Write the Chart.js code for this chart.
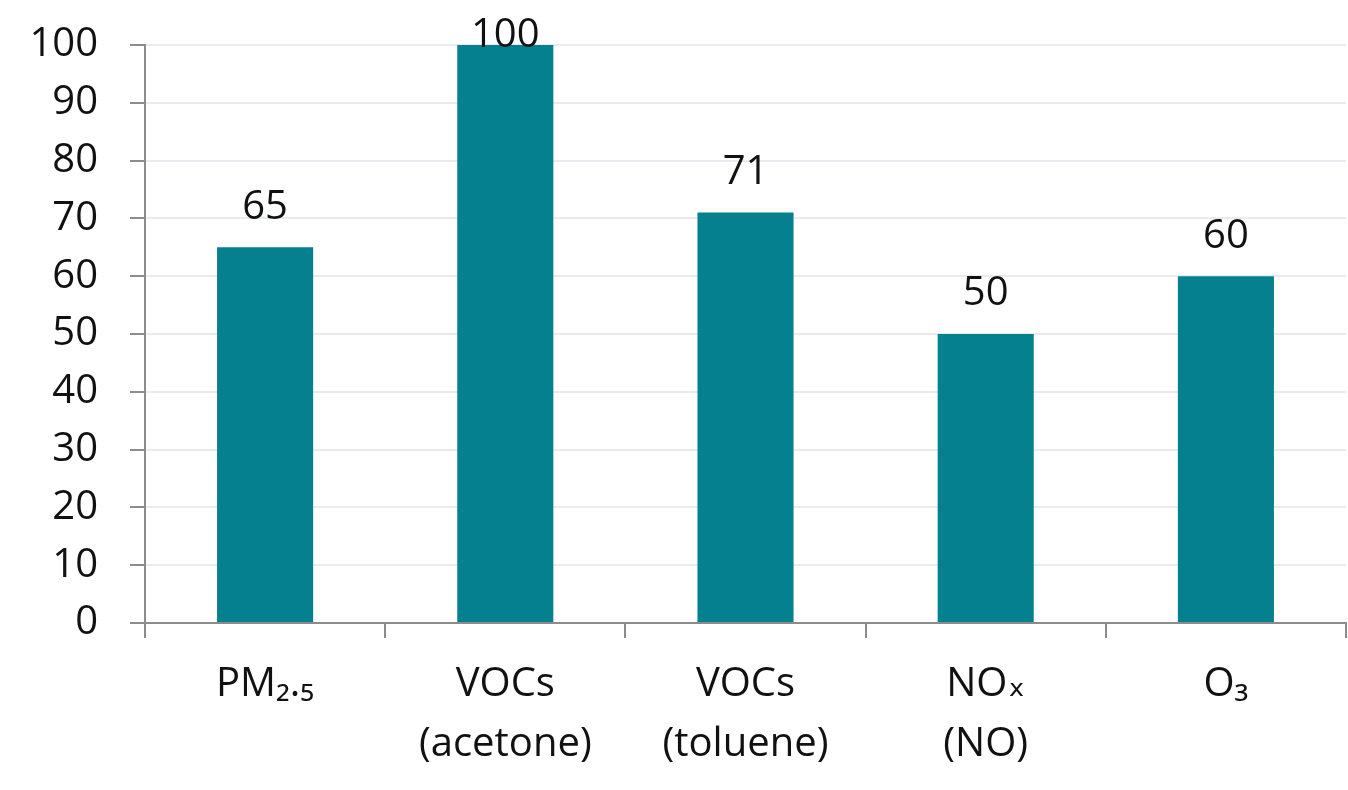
<!DOCTYPE html>
<html>
<head>
<meta charset="utf-8">
<script src="https://cdn.jsdelivr.net/npm/chart.js@4/dist/chart.umd.min.js"></script>
<style>
  html, body { margin: 0; padding: 0; background: #fff; }
  #wrap { width: 1348px; height: 790px; }
</style>
</head>
<body>
<div id="wrap"><canvas id="barChart" width="1348" height="790"></canvas></div>
<script>
// Categories and values
const categories = [['PM₂.₅'], ['VOCs', '(acetone)'], ['VOCs', '(toluene)'], ['NOₓ', '(NO)'], ['O₃']];
const values = [65, 100, 71, 50, 60];
const yTicks = [0, 10, 20, 30, 40, 50, 60, 70, 80, 90, 100];

const barColor = '#05808e';
const axisGray = '#8c8c8c';
const gridGray = '#e8ecf2';
const fontFamily = '"Open Sans", "DejaVu Sans", sans-serif';

// Draw value labels above each bar (kept inside the canvas at the top)
const valueLabels = {
    id: 'valueLabels',
    afterDatasetsDraw(chart) {
        const ctx = chart.ctx;
        const meta = chart.getDatasetMeta(0);
        ctx.save();
        ctx.font = '40px ' + fontFamily;
        ctx.fillStyle = '#111';
        ctx.textAlign = 'center';
        ctx.textBaseline = 'middle';
        meta.data.forEach(function (bar, i) {
            const y = Math.max(bar.y - 40, 36);
            ctx.fillText(String(values[i]), bar.x, y);
        });
        ctx.restore();
    }
};

const ctx = document.getElementById('barChart').getContext('2d');
const chart = new Chart(ctx, {
    type: 'bar',
    data: {
        labels: categories,
        datasets: [{
            data: values,
            backgroundColor: barColor,
            borderWidth: 0,
            barPercentage: 0.4,
            categoryPercentage: 1
        }]
    },
    options: {
        responsive: false,
        animation: false,
        layout: { padding: { top: 45, right: 2, left: 0, bottom: 0 } },
        plugins: {
            legend: { display: false },
            tooltip: { enabled: false }
        },
        scales: {
            x: {
                grid: {
                    offset: true,
                    drawOnChartArea: false,
                    drawTicks: true,
                    tickLength: 15,
                    tickColor: axisGray,
                    lineWidth: 2
                },
                border: { display: true, color: axisGray, width: 2 },
                ticks: {
                    color: '#111',
                    font: { family: fontFamily, size: 40, lineHeight: 1.5 },
                    padding: 17,
                    maxRotation: 0,
                    autoSkip: false
                },
                afterFit(scale) { scale.height = 167; }
            },
            y: {
                min: 0,
                max: 100,
                afterBuildTicks(scale) { scale.ticks = yTicks.map(v => ({ value: v })); },
                grid: {
                    color: gridGray,
                    lineWidth: 2,
                    tickLength: 15,
                    tickColor: axisGray
                },
                border: { display: true, color: axisGray, width: 2 },
                ticks: {
                    color: '#111',
                    font: { family: fontFamily, size: 40 },
                    padding: 32
                },
                afterFit(scale) {
                    scale.width = 145;
                    scale.paddingTop = 0;
                    scale.paddingBottom = 0;
                }
            }
        }
    },
    plugins: [valueLabels]
});
</script>
</body>
</html>
